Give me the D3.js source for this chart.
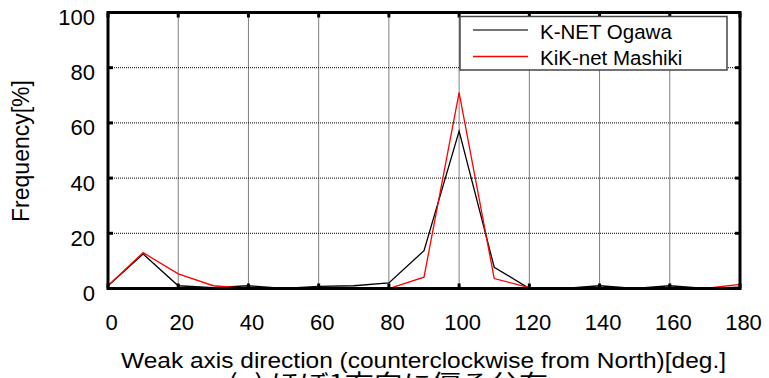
<!DOCTYPE html>
<html>
<head>
<meta charset="utf-8">
<script src="https://cdn.jsdelivr.net/npm/d3@7"></script>
<style>
  body { margin: 0; background: #fff; }
  svg { display: block; }
  .grid line { stroke: #000; stroke-width: 1; stroke-dasharray: 1,1; }
</style>
</head>
<body>
<svg id="chart" width="769" height="378"></svg>
<script>
// direction bins (deg)
const directions = [0, 10, 20, 30, 40, 50, 60, 70, 80, 90, 100, 110, 120, 130, 140, 150, 160, 170, 180];
// frequency [%]
const ogawa   = [1, 12.5, 1, 0.3, 1, 0, 0.8, 1, 2, 13.7, 57, 7.7, 0, 0, 1, 0, 1, 0, 0.5];
const mashiki = [1, 13, 5.3, 1, 0, 0, 0, 0, 0, 4.1, 71, 3.6, 0.3, 0, 0, 0, 0, 0, 1.5];
const seriesNames = ["K-NET Ogawa", "KiK-net Mashiki"];
const seriesColors = ["#000", "#ff0000"];
const xTicks = [0, 20, 40, 60, 80, 100, 120, 140, 160, 180];
const yTicks = [0, 20, 40, 60, 80, 100];

const svg = d3.select("#chart");
const pLeft = 108, pRight = 740, pTop = 12.5, pBottom = 288.5;

const x = d3.scaleLinear().domain([0, 180]).range([pLeft, pRight]);
const y = d3.scaleLinear().domain([0, 100]).range([pBottom, pTop]);

// grid
let grid = svg.append("g").attr("class", "grid");
grid.selectAll(".vx").data(xTicks.slice(1, -1)).enter().append("line")
    .attr("x1", d => x(d)).attr("x2", d => x(d))
    .attr("y1", pTop).attr("y2", pBottom);
grid.selectAll(".hy").data(yTicks.slice(1, -1)).enter().append("line")
    .attr("x1", pLeft).attr("x2", pRight)
    .attr("y1", d => y(d)).attr("y2", d => y(d));

// lines
const line = d3.line()
    .x((d, i) => x(directions[i]))
    .y(d => y(d));

[ogawa, mashiki].forEach((s, k) => {
    svg.append("path")
        .datum(s)
        .attr("fill", "none")
        .attr("stroke", seriesColors[k])
        .attr("stroke-width", 1.3)
        .attr("d", line);
});

// inward ticks on all four sides
let ticks = svg.append("g").attr("stroke", "#000").attr("stroke-width", 3);
xTicks.forEach(t => {
    ticks.append("line").attr("x1", x(t)).attr("x2", x(t)).attr("y1", pBottom).attr("y2", pBottom - 5);
    ticks.append("line").attr("x1", x(t)).attr("x2", x(t)).attr("y1", pTop).attr("y2", pTop + 5);
});
yTicks.forEach(t => {
    ticks.append("line").attr("x1", pLeft).attr("x2", pLeft + 5).attr("y1", y(t)).attr("y2", y(t));
    ticks.append("line").attr("x1", pRight).attr("x2", pRight - 5).attr("y1", y(t)).attr("y2", y(t));
});

// frame
svg.append("rect")
    .attr("x", pLeft).attr("y", pTop)
    .attr("width", pRight - pLeft).attr("height", pBottom - pTop)
    .attr("fill", "none").attr("stroke", "#000").attr("stroke-width", 3);

// y tick labels
svg.append("g").selectAll("text").data(yTicks).enter().append("text")
    .attr("x", 95).attr("y", d => y(d) + 4.5)
    .attr("dy", "0.36em")
    .attr("text-anchor", "end")
    .style("font-family", "Liberation Sans, Arial, sans-serif")
    .style("font-size", "22px")
    .text(d => d);

// x tick labels
svg.append("g").selectAll("text").data(xTicks).enter().append("text")
    .attr("x", d => x(d) + 3.5).attr("y", 329.5)
    .attr("text-anchor", "middle")
    .style("font-family", "Liberation Sans, Arial, sans-serif")
    .style("font-size", "22px")
    .text(d => d);

// axis titles
svg.append("text")
    .attr("transform", "translate(29,151) rotate(-90)")
    .attr("text-anchor", "middle")
    .style("font-family", "Liberation Sans, Arial, sans-serif")
    .style("font-size", "23px")
    .text("Frequency[%]");

svg.append("text")
    .attr("x", 121).attr("y", 367.5)
    .attr("textLength", 605).attr("lengthAdjust", "spacingAndGlyphs")
    .style("font-family", "Liberation Sans, Arial, sans-serif")
    .style("font-size", "22px")
    .text("Weak axis direction (counterclockwise from North)[deg.]");

// caption, partly cut off by the bottom edge
svg.append("text")
    .attr("x", 228).attr("y", 391)
    .attr("textLength", 320).attr("lengthAdjust", "spacingAndGlyphs")
    .style("font-family", "Noto Sans CJK JP, sans-serif")
    .style("font-size", "23px")
    .text("(a) ほぼ1方向に偏る分布");

// legend
let legend = svg.append("g");
legend.append("rect")
    .attr("x", 460).attr("y", 16.5).attr("width", 267).attr("height", 53.5)
    .attr("fill", "#fff").attr("stroke", "#444").attr("stroke-width", 1.5);
seriesNames.forEach((name, k) => {
    let ly = 30 + k * 26.5;
    legend.append("line")
        .attr("x1", 473).attr("x2", 528).attr("y1", ly).attr("y2", ly)
        .attr("stroke", k === 0 ? "#444" : seriesColors[k]).attr("stroke-width", 1.3);
    legend.append("text")
        .attr("x", 540).attr("y", ly + 1.5).attr("dy", "0.36em")
        .style("font-family", "Liberation Sans, Arial, sans-serif")
        .style("font-size", "20.5px")
        .text(name);
});
</script>
</body>
</html>
